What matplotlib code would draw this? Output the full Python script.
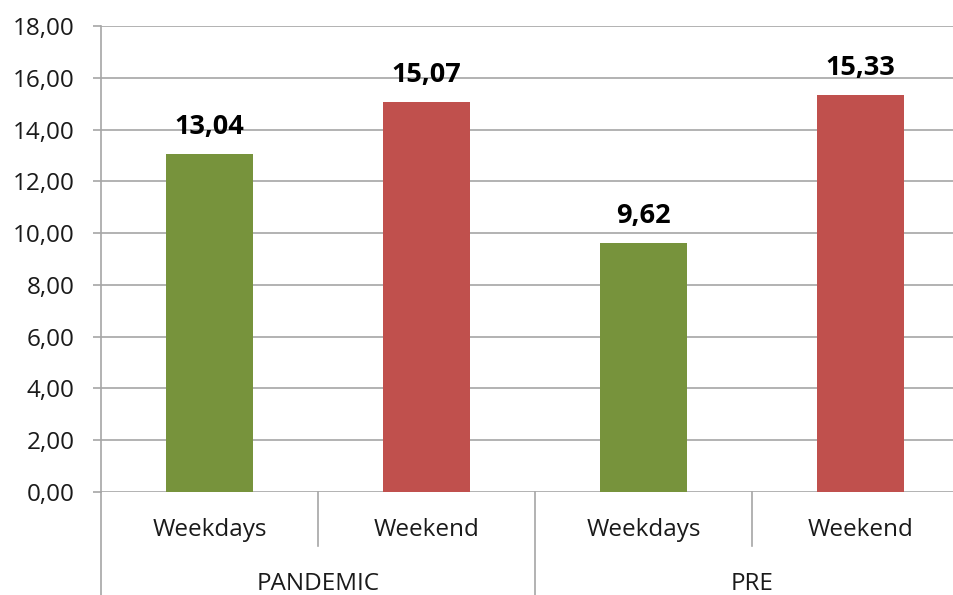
import matplotlib
matplotlib.use("Agg")
import matplotlib.pyplot as plt
from matplotlib.lines import Line2D

groups = ["PANDEMIC", "PRE"]
subcats = ["Weekdays", "Weekend"]
values = [13.04, 15.07, 9.62, 15.33]
colors = ["#77933C", "#C0504D", "#77933C", "#C0504D"]
yticks = [0, 2, 4, 6, 8, 10, 12, 14, 16, 18]

plt.rcParams['font.family'] = ['Open Sans', 'DejaVu Sans']

W, H = 954, 595
fig = plt.figure(figsize=(W / 100, H / 100), dpi=100)
x0, x1 = 101, 969
y0, y1 = 492, 26
ax = fig.add_axes([x0 / W, 1 - y0 / H, (x1 - x0) / W, (y0 - y1) / H])

n = len(values)
xs = list(range(n))
ax.set_xlim(-0.5, n - 0.5)
ax.set_ylim(0, 18)

for y in yticks:
    ax.axhline(y, color="#A6A6A6", lw=1.2, zorder=0)

bars = ax.bar(xs, values, width=0.405, color=colors, zorder=2)
for x, v in zip(xs, values):
    ax.annotate(f"{v:.2f}".replace(".", ","), (x, v), xytext=(0, 14.5),
                textcoords="offset points", ha="center", va="baseline",
                fontsize=19.5, fontweight="bold", color="black")

ax.set_yticks(yticks)
ax.set_yticklabels([f"{t:.2f}".replace(".", ",") for t in yticks],
                   fontsize=17.5, color="#1a1a1a")
ax.tick_params(axis="y", length=6, width=1.2, color="#A6A6A6", pad=13)
ax.set_xticks([])
for s in ["top", "right", "bottom"]:
    ax.spines[s].set_visible(False)
ax.spines["left"].set_color("#A6A6A6")
ax.spines["left"].set_linewidth(1.2)

trans = ax.get_xaxis_transform()
def fy(py):
    return (y0 - py) / (y0 - y1)

for i, x in enumerate(xs):
    ax.text(x, fy(536), subcats[i % 2], transform=trans, ha="center", va="baseline",
            fontsize=17.5, color="#1a1a1a", clip_on=False)
for g, name in enumerate(groups):
    ax.text(2 * g + 0.5, fy(590), name, transform=trans, ha="center", va="baseline",
            fontsize=17.5, color="#1a1a1a", clip_on=False)

for xb, ybot in [(-0.5, 600), (1.5, 600), (0.5, 546), (2.5, 546)]:
    ax.add_line(Line2D([xb, xb], [fy(492), fy(ybot)], transform=trans,
                       color="#A6A6A6", lw=1.2, clip_on=False))

fig.savefig("out.png", dpi=100)
